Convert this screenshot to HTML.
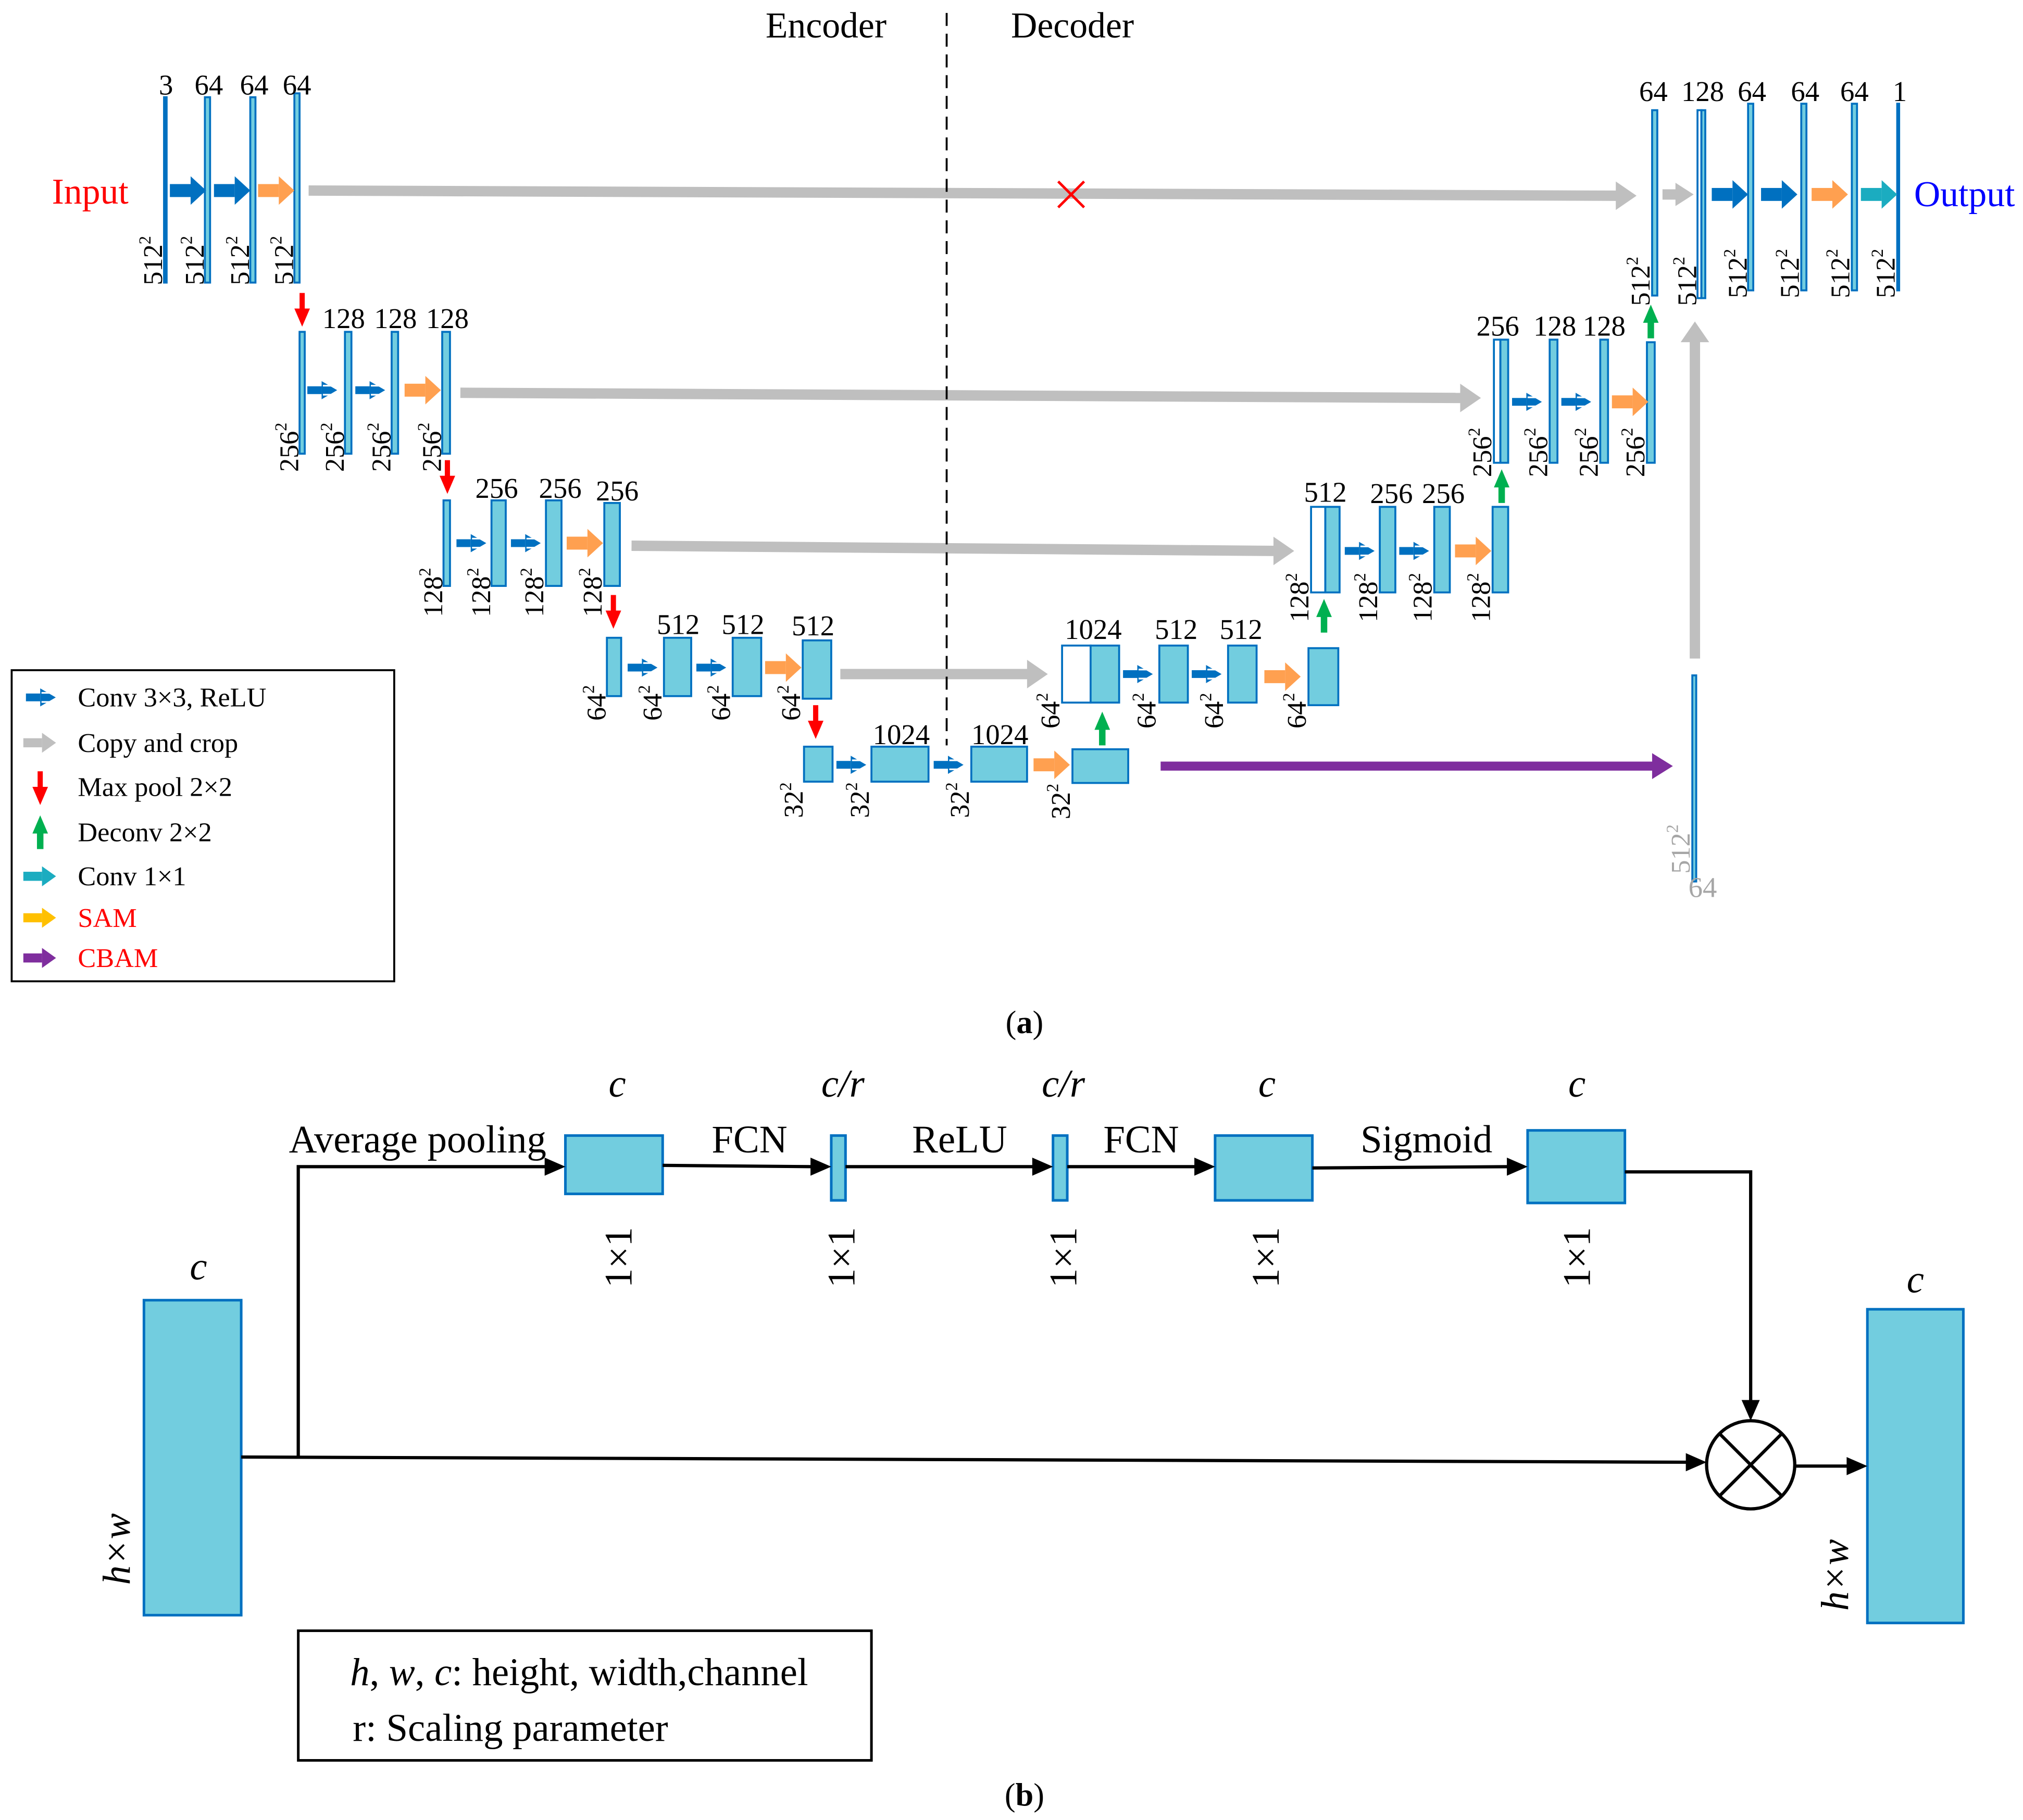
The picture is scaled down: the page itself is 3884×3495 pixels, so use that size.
<!DOCTYPE html>
<html><head><meta charset="utf-8"><style>html,body{margin:0;padding:0;background:#fff}svg{display:block}</style></head><body>
<svg width="3884" height="3495" viewBox="0 0 1560 1404" preserveAspectRatio="none" xmlns="http://www.w3.org/2000/svg" font-family="Liberation Serif, serif">
<defs>
<g id="cv"><rect x="0" y="-3" width="11" height="6"/><polygon points="11,-7 23,0 11,7"/><line x1="12" y1="-3.5" x2="24" y2="-3.5" stroke="#fff" stroke-width="1.3"/><line x1="12" y1="3.5" x2="24" y2="3.5" stroke="#fff" stroke-width="1.3"/></g>
<g id="ba"><rect x="0" y="-5" width="16" height="10"/><polygon points="16,-11 28,0 16,11"/></g>
<g id="dn"><rect x="-2" y="0" width="4" height="14"/><polygon points="-6,12 6,12 0,26"/></g>
<g id="up"><rect x="-2.5" y="12" width="5" height="14"/><polygon points="-6,14 6,14 0,0"/></g>
</defs>
<g stroke="#0070C0" stroke-width="1.5" fill="#72CDDF">
<rect x="126.5" y="75" width="2" height="143" fill="#0070C0"/>
<rect x="158" y="75" width="4" height="143"/><rect x="193" y="75" width="4" height="143"/><rect x="227" y="72" width="4" height="146"/>
<rect x="231" y="256" width="4" height="94"/><rect x="266" y="256" width="5" height="94"/><rect x="302" y="256" width="5" height="94"/><rect x="341" y="256" width="6" height="94"/>
<rect x="342" y="386" width="5" height="66"/><rect x="379" y="386" width="11" height="66"/><rect x="421" y="386" width="12" height="66"/><rect x="466" y="388" width="12" height="64"/>
<rect x="468" y="492" width="11" height="45"/><rect x="512" y="492" width="21" height="45"/><rect x="565" y="492" width="22" height="45"/><rect x="619" y="494" width="22" height="45"/>
<rect x="620" y="576" width="22" height="27"/><rect x="672" y="576" width="44" height="27"/><rect x="749" y="576" width="43" height="27"/><rect x="827" y="578" width="43" height="26"/>
<rect x="819" y="498" width="22" height="44" fill="#fff"/><rect x="841" y="498" width="22" height="44"/><rect x="894" y="498" width="22" height="44"/><rect x="947" y="498" width="22" height="44"/><rect x="1009" y="500" width="23" height="44"/>
<rect x="1011" y="391" width="11" height="66" fill="#fff"/><rect x="1022" y="391" width="11" height="66"/><rect x="1064" y="391" width="12" height="66"/><rect x="1106" y="391" width="12" height="66"/><rect x="1151" y="391" width="12" height="66"/>
<rect x="1152" y="262" width="5" height="95" fill="#fff"/><rect x="1157" y="262" width="6" height="95"/><rect x="1195" y="262" width="6" height="95"/><rect x="1234" y="262" width="6" height="95"/><rect x="1270" y="264" width="6" height="93"/>
<rect x="1274" y="85" width="4" height="143"/><rect x="1309" y="85" width="3" height="145" fill="#fff"/><rect x="1312" y="85" width="3" height="145"/><rect x="1348" y="80" width="4" height="144"/><rect x="1389" y="80" width="4" height="144"/><rect x="1428" y="80" width="4" height="144"/>
<rect x="1463" y="80" width="1.5" height="144" fill="#0070C0"/>
<rect x="1305" y="521" width="3" height="159"/>
</g>
<g stroke="#BFBFBF" stroke-width="8" fill="none">
<line x1="238" y1="147" x2="1248" y2="151"/>
<line x1="355" y1="303" x2="1128" y2="307"/>
<line x1="487" y1="421" x2="984" y2="425"/>
<line x1="648" y1="520" x2="794" y2="520"/>
<line x1="1307" y1="508" x2="1307" y2="262"/>
<line x1="1282" y1="150" x2="1294" y2="150"/>
</g>
<g fill="#BFBFBF">
<polygon points="1246,140 1262,151 1246,162"/>
<polygon points="1126,296 1142,307 1126,318"/>
<polygon points="982,414 998,425 982,436"/>
<polygon points="792,509 808,520 792,531"/>
<polygon points="1296,264 1307,248 1318,264"/>
<polygon points="1292,141 1306,150 1292,159"/>
</g>
<line x1="895" y1="591" x2="1276" y2="591" stroke="#7F2E9E" stroke-width="7"/>
<polygon points="1274,581 1290,591 1274,601" fill="#7F2E9E"/>
<g stroke="#FF0000" stroke-width="2"><line x1="816" y1="140" x2="836" y2="160"/><line x1="836" y1="140" x2="816" y2="160"/></g>
<line x1="730" y1="10" x2="730" y2="575" stroke="#000" stroke-width="1.5" stroke-dasharray="10,6"/>
<g fill="#0070C0">
<use href="#ba" transform="translate(131,147)"/><use href="#ba" transform="translate(165,147)"/>
<use href="#ba" transform="translate(1320,150)"/><use href="#ba" transform="translate(1358,150)"/>
<use href="#cv" transform="translate(237,301)"/><use href="#cv" transform="translate(274,301)"/>
<use href="#cv" transform="translate(352,419)"/><use href="#cv" transform="translate(394,419)"/>
<use href="#cv" transform="translate(484,515)"/><use href="#cv" transform="translate(537,515)"/>
<use href="#cv" transform="translate(645,590)"/><use href="#cv" transform="translate(720,590)"/>
<use href="#cv" transform="translate(866,520)"/><use href="#cv" transform="translate(919,520)"/>
<use href="#cv" transform="translate(1037,425)"/><use href="#cv" transform="translate(1079,425)"/>
<use href="#cv" transform="translate(1166,310)"/><use href="#cv" transform="translate(1204,310)"/>
</g>
<g fill="#FFA050">
<use href="#ba" transform="translate(199,147)"/><use href="#ba" transform="translate(312,301)"/>
<use href="#ba" transform="translate(437,419)"/><use href="#ba" transform="translate(590,515)"/>
<use href="#ba" transform="translate(797,590)"/><use href="#ba" transform="translate(975,522)"/>
<use href="#ba" transform="translate(1122,425)"/><use href="#ba" transform="translate(1243,310)"/>
<use href="#ba" transform="translate(1397,150)"/>
</g>
<g fill="#1BACC0"><use href="#ba" transform="translate(1435,150)"/></g>
<g fill="#FF0000">
<use href="#dn" transform="translate(233,226)"/><use href="#dn" transform="translate(345,355)"/>
<use href="#dn" transform="translate(473,459)"/><use href="#dn" transform="translate(629,544)"/>
</g>
<g fill="#00B050">
<use href="#up" transform="translate(850,549)"/><use href="#up" transform="translate(1021,462)"/>
<use href="#up" transform="translate(1158,362)"/><use href="#up" transform="translate(1273,235)"/>
</g>
<g font-size="22" text-anchor="middle" fill="#000">
<text x="637" y="29" font-size="28">Encoder</text><text x="827" y="29" font-size="28">Decoder</text>
<text x="128" y="73">3</text><text x="161" y="73">64</text><text x="196" y="73">64</text><text x="229" y="73">64</text>
<text x="265" y="253">128</text><text x="305" y="253">128</text><text x="345" y="253">128</text>
<text x="383" y="384">256</text><text x="432" y="384">256</text><text x="476" y="386">256</text>
<text x="523" y="489">512</text><text x="573" y="489">512</text><text x="627" y="490">512</text>
<text x="695" y="574">1024</text><text x="771" y="574">1024</text>
<text x="843" y="493">1024</text><text x="907" y="493">512</text><text x="957" y="493">512</text>
<text x="1022" y="387">512</text><text x="1073" y="388">256</text><text x="1113" y="388">256</text>
<text x="1155" y="259">256</text><text x="1199" y="259">128</text><text x="1237" y="259">128</text>
<text x="1275" y="78">64</text><text x="1313" y="78">128</text><text x="1351" y="78">64</text><text x="1392" y="78">64</text><text x="1430" y="78">64</text><text x="1465" y="78">1</text>
<text x="1313" y="692" fill="#A6A6A6">64</text>
</g>
<text x="40" y="157" font-size="28" fill="#FF0000">Input</text>
<text x="1476" y="159" font-size="28" fill="#0000FF">Output</text>
<g font-size="21" fill="#000">
<text transform="translate(125,220) rotate(-90)">512<tspan font-size="13" dy="-9">2</tspan></text>
<text transform="translate(157,220) rotate(-90)">512<tspan font-size="13" dy="-9">2</tspan></text>
<text transform="translate(192,220) rotate(-90)">512<tspan font-size="13" dy="-9">2</tspan></text>
<text transform="translate(226,220) rotate(-90)">512<tspan font-size="13" dy="-9">2</tspan></text>
<text transform="translate(230,364) rotate(-90)">256<tspan font-size="13" dy="-9">2</tspan></text>
<text transform="translate(265,364) rotate(-90)">256<tspan font-size="13" dy="-9">2</tspan></text>
<text transform="translate(301,364) rotate(-90)">256<tspan font-size="13" dy="-9">2</tspan></text>
<text transform="translate(340,364) rotate(-90)">256<tspan font-size="13" dy="-9">2</tspan></text>
<text transform="translate(341,476) rotate(-90)">128<tspan font-size="13" dy="-9">2</tspan></text>
<text transform="translate(378,476) rotate(-90)">128<tspan font-size="13" dy="-9">2</tspan></text>
<text transform="translate(419,476) rotate(-90)">128<tspan font-size="13" dy="-9">2</tspan></text>
<text transform="translate(464,476) rotate(-90)">128<tspan font-size="13" dy="-9">2</tspan></text>
<text transform="translate(467,556) rotate(-90)">64<tspan font-size="13" dy="-9">2</tspan></text>
<text transform="translate(510,556) rotate(-90)">64<tspan font-size="13" dy="-9">2</tspan></text>
<text transform="translate(563,556) rotate(-90)">64<tspan font-size="13" dy="-9">2</tspan></text>
<text transform="translate(617,556) rotate(-90)">64<tspan font-size="13" dy="-9">2</tspan></text>
<text transform="translate(619,631) rotate(-90)">32<tspan font-size="13" dy="-9">2</tspan></text>
<text transform="translate(670,631) rotate(-90)">32<tspan font-size="13" dy="-9">2</tspan></text>
<text transform="translate(747,631) rotate(-90)">32<tspan font-size="13" dy="-9">2</tspan></text>
<text transform="translate(825,632) rotate(-90)">32<tspan font-size="13" dy="-9">2</tspan></text>
<text transform="translate(817,562) rotate(-90)">64<tspan font-size="13" dy="-9">2</tspan></text>
<text transform="translate(891,562) rotate(-90)">64<tspan font-size="13" dy="-9">2</tspan></text>
<text transform="translate(943,562) rotate(-90)">64<tspan font-size="13" dy="-9">2</tspan></text>
<text transform="translate(1007,562) rotate(-90)">64<tspan font-size="13" dy="-9">2</tspan></text>
<text transform="translate(1009,480) rotate(-90)">128<tspan font-size="13" dy="-9">2</tspan></text>
<text transform="translate(1062,480) rotate(-90)">128<tspan font-size="13" dy="-9">2</tspan></text>
<text transform="translate(1104,480) rotate(-90)">128<tspan font-size="13" dy="-9">2</tspan></text>
<text transform="translate(1149,480) rotate(-90)">128<tspan font-size="13" dy="-9">2</tspan></text>
<text transform="translate(1150,368) rotate(-90)">256<tspan font-size="13" dy="-9">2</tspan></text>
<text transform="translate(1193,368) rotate(-90)">256<tspan font-size="13" dy="-9">2</tspan></text>
<text transform="translate(1232,368) rotate(-90)">256<tspan font-size="13" dy="-9">2</tspan></text>
<text transform="translate(1268,368) rotate(-90)">256<tspan font-size="13" dy="-9">2</tspan></text>
<text transform="translate(1272,236) rotate(-90)">512<tspan font-size="13" dy="-9">2</tspan></text>
<text transform="translate(1308,236) rotate(-90)">512<tspan font-size="13" dy="-9">2</tspan></text>
<text transform="translate(1347,230) rotate(-90)">512<tspan font-size="13" dy="-9">2</tspan></text>
<text transform="translate(1387,230) rotate(-90)">512<tspan font-size="13" dy="-9">2</tspan></text>
<text transform="translate(1426,230) rotate(-90)">512<tspan font-size="13" dy="-9">2</tspan></text>
<text transform="translate(1461,230) rotate(-90)">512<tspan font-size="13" dy="-9">2</tspan></text>
<text transform="translate(1303,674) rotate(-90)" fill="#A6A6A6">512<tspan font-size="13" dy="-9">2</tspan></text>
</g>
<rect x="9" y="517" width="295" height="240" fill="#fff" stroke="#000" stroke-width="1.5"/>
<g fill="#0070C0"><use href="#cv" transform="translate(20,538)"/></g>
<g fill="#BFBFBF"><use href="#ba" transform="translate(18,573) scale(0.9,0.7)"/></g>
<g fill="#FF0000"><use href="#dn" transform="translate(31,595)"/></g>
<g fill="#00B050"><use href="#up" transform="translate(31,629)"/></g>
<g fill="#1BACC0"><use href="#ba" transform="translate(18,676) scale(0.9,0.7)"/></g>
<g fill="#FFC000"><use href="#ba" transform="translate(18,708) scale(0.9,0.7)"/></g>
<g fill="#7F2E9E"><use href="#ba" transform="translate(18,739) scale(0.9,0.7)"/></g>
<g font-size="21">
<text x="60" y="545">Conv 3×3, ReLU</text><text x="60" y="580">Copy and crop</text><text x="60" y="614">Max pool 2×2</text>
<text x="60" y="649">Deconv 2×2</text><text x="60" y="683">Conv 1×1</text>
<text x="60" y="715" fill="#FF0000">SAM</text><text x="60" y="746" fill="#FF0000">CBAM</text>
</g>
<text x="790" y="797" font-size="25" text-anchor="middle">(<tspan font-weight="bold">a</tspan>)</text>
<g stroke="#0070C0" stroke-width="2" fill="#72CDDF">
<rect x="111" y="1003" width="75" height="243"/><rect x="1440" y="1010" width="74" height="242"/>
<rect x="436" y="876" width="75" height="45"/><rect x="641" y="876" width="11" height="50"/>
<rect x="812" y="876" width="11" height="50"/><rect x="937" y="876" width="75" height="50"/>
<rect x="1178" y="872" width="75" height="56"/>
</g>
<g stroke="#000" stroke-width="2.5" fill="none">
<polyline points="186,1124 1302,1128"/>
<polyline points="230,1124 230,900 422,900"/>
<line x1="511" y1="899" x2="627" y2="900"/><line x1="652" y1="900" x2="798" y2="900"/>
<line x1="823" y1="900" x2="923" y2="900"/><line x1="1012" y1="901" x2="1164" y2="900"/>
<polyline points="1253,904 1350,904 1350,1082"/>
<line x1="1384" y1="1131" x2="1426" y2="1131"/>
<circle cx="1350" cy="1130" r="34"/>
<line x1="1326" y1="1106" x2="1374" y2="1154"/><line x1="1374" y1="1106" x2="1326" y2="1154"/>
</g>
<g fill="#000">
<polygon points="1300,1121 1316,1128 1300,1135"/>
<polygon points="420,893 436,900 420,907"/>
<polygon points="625,893 641,900 625,907"/>
<polygon points="796,893 812,900 796,907"/>
<polygon points="921,893 937,900 921,907"/>
<polygon points="1162,893 1178,900 1162,907"/>
<polygon points="1343,1080 1350,1096 1357,1080"/>
<polygon points="1424,1124 1440,1131 1424,1138"/>
</g>
<g font-size="30" text-anchor="middle">
<text x="153" y="987" font-style="italic">c</text><text x="1477" y="997" font-style="italic">c</text>
<text x="476" y="846" font-style="italic">c</text><text x="650" y="846" font-style="italic">c/r</text>
<text x="820" y="846" font-style="italic">c/r</text><text x="977" y="846" font-style="italic">c</text><text x="1216" y="846" font-style="italic">c</text>
<text x="322" y="889">Average pooling</text><text x="578" y="889">FCN</text><text x="740" y="889">ReLU</text>
<text x="880" y="889">FCN</text><text x="1100" y="889">Sigmoid</text>
<text transform="translate(100,1195) rotate(-90)" font-style="italic">h×w</text>
<text transform="translate(1425,1215) rotate(-90)" font-style="italic">h×w</text>
<text transform="translate(487,970) rotate(-90)">1×1</text>
<text transform="translate(659,970) rotate(-90)">1×1</text>
<text transform="translate(830,970) rotate(-90)">1×1</text>
<text transform="translate(986,970) rotate(-90)">1×1</text>
<text transform="translate(1226,970) rotate(-90)">1×1</text>
</g>
<rect x="230" y="1258" width="442" height="100" fill="#fff" stroke="#000" stroke-width="2"/>
<g font-size="30">
<text x="270" y="1300"><tspan font-style="italic">h</tspan>, <tspan font-style="italic">w</tspan>, <tspan font-style="italic">c</tspan>: height, width,channel</text>
<text x="272" y="1343">r: Scaling parameter</text>
</g>
<text x="790" y="1393" font-size="25" text-anchor="middle">(<tspan font-weight="bold">b</tspan>)</text>
</svg>
</body></html>
